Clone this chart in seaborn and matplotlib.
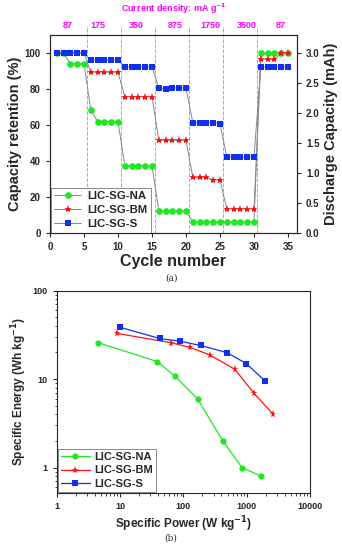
import numpy as np
import pandas as pd
import matplotlib
matplotlib.use("Agg")
import matplotlib.pyplot as plt
import seaborn as sns

# ========== DATA ==========
cycles = list(range(1, 36))
na_ret = [100, 100, 94, 94, 94, 68.5, 62, 62, 62, 62,
          37.5, 37.5, 37.5, 37.5, 37.5, 12.5, 12.5, 12.5, 12.5, 12.5,
          6.2, 6.2, 6.2, 6.2, 6.2, 6.2, 6.2, 6.2, 6.2, 6.2,
          100, 100, 100, 100, 100]
bm_ret = [100, 100, 100, 100, 100, 89.3, 89.3, 89.3, 89.3, 89.3,
          75.7, 75.7, 75.7, 75.7, 75.7, 51.5, 51.5, 51.5, 51.5, 51.5,
          31, 31, 31, 29.6, 29.6, 13.5, 13.5, 13.5, 13.5, 13.5,
          96.5, 96.5, 96.5, 100, 100]
s_ret = [100, 100, 100, 100, 100, 96, 96, 96, 96, 96,
         92.3, 92.3, 92.3, 92.3, 92.3, 80.6, 80, 80.6, 80.6, 80.6,
         61.4, 61.4, 61.4, 61.4, 60.8, 42.3, 42.3, 42.3, 42.3, 42.3,
         92.3, 92.3, 92.3, 92.3, 92.3]

current_labels = ["87", "175", "350", "875", "1750", "3500", "87"]
current_pos = [2.6, 7.1, 12.7, 18.4, 23.6, 29.0, 33.9]
step_edges = [5.5, 10.5, 15.5, 20.5, 25.5, 30.5]

na_power = [4.5, 38.5, 72.5, 167, 421, 841, 1700]
na_energy = [25.8, 15.8, 10.9, 6.0, 2.0, 1.0, 0.8]
bm_power = [9.0, 64, 128, 260, 652, 1300, 2630]
bm_energy = [32.8, 25.8, 22.8, 18.8, 12.9, 6.95, 4.0]
s_power = [9.9, 42, 88, 189, 493, 985, 1964]
s_energy = [38.6, 28.8, 26.8, 24.0, 19.9, 15.0, 9.5]

names = ["LIC-SG-NA", "LIC-SG-BM", "LIC-SG-S"]
colors = {"LIC-SG-NA": "#1ee81e", "LIC-SG-BM": "#ff1010", "LIC-SG-S": "#1030f0"}
markers = {"LIC-SG-NA": "o", "LIC-SG-BM": "*", "LIC-SG-S": "s"}
msize = {"LIC-SG-NA": 4.8, "LIC-SG-BM": 6.0, "LIC-SG-S": 4.5}

cyc_df = pd.concat([
    pd.DataFrame({"cycle": cycles, "ret": na_ret, "sample": "LIC-SG-NA"}),
    pd.DataFrame({"cycle": cycles, "ret": bm_ret, "sample": "LIC-SG-BM"}),
    pd.DataFrame({"cycle": cycles, "ret": s_ret, "sample": "LIC-SG-S"}),
])
rag_df = pd.concat([
    pd.DataFrame({"power": na_power, "energy": na_energy, "sample": "LIC-SG-NA"}),
    pd.DataFrame({"power": bm_power, "energy": bm_energy, "sample": "LIC-SG-BM"}),
    pd.DataFrame({"power": s_power, "energy": s_energy, "sample": "LIC-SG-S"}),
])

# ========== STYLE ==========
sns.set_style("ticks")
plt.rcParams["font.family"] = ["Liberation Sans", "DejaVu Sans"]
plt.rcParams["font.weight"] = "bold"
plt.rcParams["axes.labelweight"] = "bold"
plt.rcParams["axes.linewidth"] = 0.8
plt.rcParams["xtick.major.size"] = 3
plt.rcParams["ytick.major.size"] = 3
plt.rcParams["mathtext.default"] = "bf"

fig = plt.figure(figsize=(3.42, 5.5), dpi=100)

# ========== (a) rate capability ==========
ax = fig.add_axes([0.1462, 0.5758, 0.868 - 0.1462, 0.9364 - 0.5758])
for x in step_edges:
    ax.axvline(x, ymin=0, ymax=1.045, color="#aaaaaa", ls="--", lw=0.7,
               clip_on=False, zorder=0)
for i, n in enumerate(names):
    sub = cyc_df[cyc_df["sample"] == n]
    sns.lineplot(data=sub, x="cycle", y="ret", ax=ax, color="#888888", lw=0.7,
                 marker=markers[n], markersize=msize[n], markeredgewidth=0,
                 markerfacecolor=colors[n], label=n, zorder=2 + i)
ax.set_xlim(0, 36.3)
ax.set_ylim(0, 110)
ax.set_xticks(range(0, 36, 5))
ax.set_yticks(range(0, 101, 20))
ax.tick_params(labelsize=7, width=0.8)
ax.set_xlabel("Cycle number", fontsize=11.5, labelpad=1)
ax.set_ylabel("Capacity retention (%)", fontsize=10.5, labelpad=2)
for lab, pos in zip(current_labels, current_pos):
    ax.text(pos, 1.025, lab, transform=ax.get_xaxis_transform(), ha="center",
            va="bottom", color="#ff00ff", fontsize=6.5, fontweight="bold")
ax.text(18.2, 1.095, "Current density: mA g$^{-1}$", transform=ax.get_xaxis_transform(),
        ha="center", va="bottom", color="#ff00ff", fontsize=6.5, fontweight="bold")
leg = ax.legend(loc="lower left", fontsize=8.2, frameon=True, fancybox=False,
                edgecolor="#555555", handlelength=2.4, borderpad=0.3,
                labelspacing=0.35, handletextpad=0.5, borderaxespad=0.05)
leg.get_frame().set_linewidth(0.6)

ax2 = ax.twinx()
ax2.set_ylim(0, 3.3)
ax2.set_yticks(np.arange(0, 3.01, 0.5))
ax2.set_yticklabels([f"{v:.1f}" for v in np.arange(0, 3.01, 0.5)])
ax2.tick_params(labelsize=7, width=0.8)
ax2.set_ylabel("Discharge Capacity (mAh)", fontsize=10.5, labelpad=3)
fig.text(0.5, 1 - 278 / 550, "(a)", ha="center", va="center",
         fontsize=6.5, family="DejaVu Serif", fontweight="normal")

# ========== (b) Ragone plot ==========
bx = fig.add_axes([0.1667, 0.1042, 0.906 - 0.1667, 0.4715 - 0.1042])
for n in names:
    sub = rag_df[rag_df["sample"] == n]
    sns.lineplot(data=sub, x="power", y="energy", ax=bx, color=colors[n], lw=0.9,
                 marker=markers[n], markersize=msize[n] - 0.3, markeredgewidth=0,
                 markerfacecolor=colors[n], label=n, sort=False)
bx.set_xscale("log")
bx.set_yscale("log")
bx.set_xlim(1, 10000)
bx.set_ylim(0.52, 100)
bx.set_xticks([1, 10, 100, 1000, 10000])
bx.set_xticklabels(["1", "10", "100", "1000", "10000"])
bx.set_yticks([1, 10, 100])
bx.set_yticklabels(["1", "10", "100"])
bx.tick_params(labelsize=6.5, width=0.8)
bx.tick_params(which="minor", length=1.8, width=0.6)
bx.set_xlabel("Specific Power (W kg$^{-1}$)", fontsize=8.5, labelpad=3)
bx.set_ylabel("Specific Energy (Wh kg$^{-1}$)", fontsize=8.5, labelpad=3)
leg2 = bx.legend(loc="lower left", fontsize=8, frameon=True, fancybox=False,
                 edgecolor="#555555", handlelength=2.6, borderpad=0.3,
                 labelspacing=0.3, handletextpad=0.4, borderaxespad=0.05)
leg2.get_frame().set_linewidth(0.6)
fig.text(0.5, 1 - 538 / 550, "(b)", ha="center", va="center",
         fontsize=6.5, family="DejaVu Serif", fontweight="normal")

fig.savefig("out.png", dpi=100)
